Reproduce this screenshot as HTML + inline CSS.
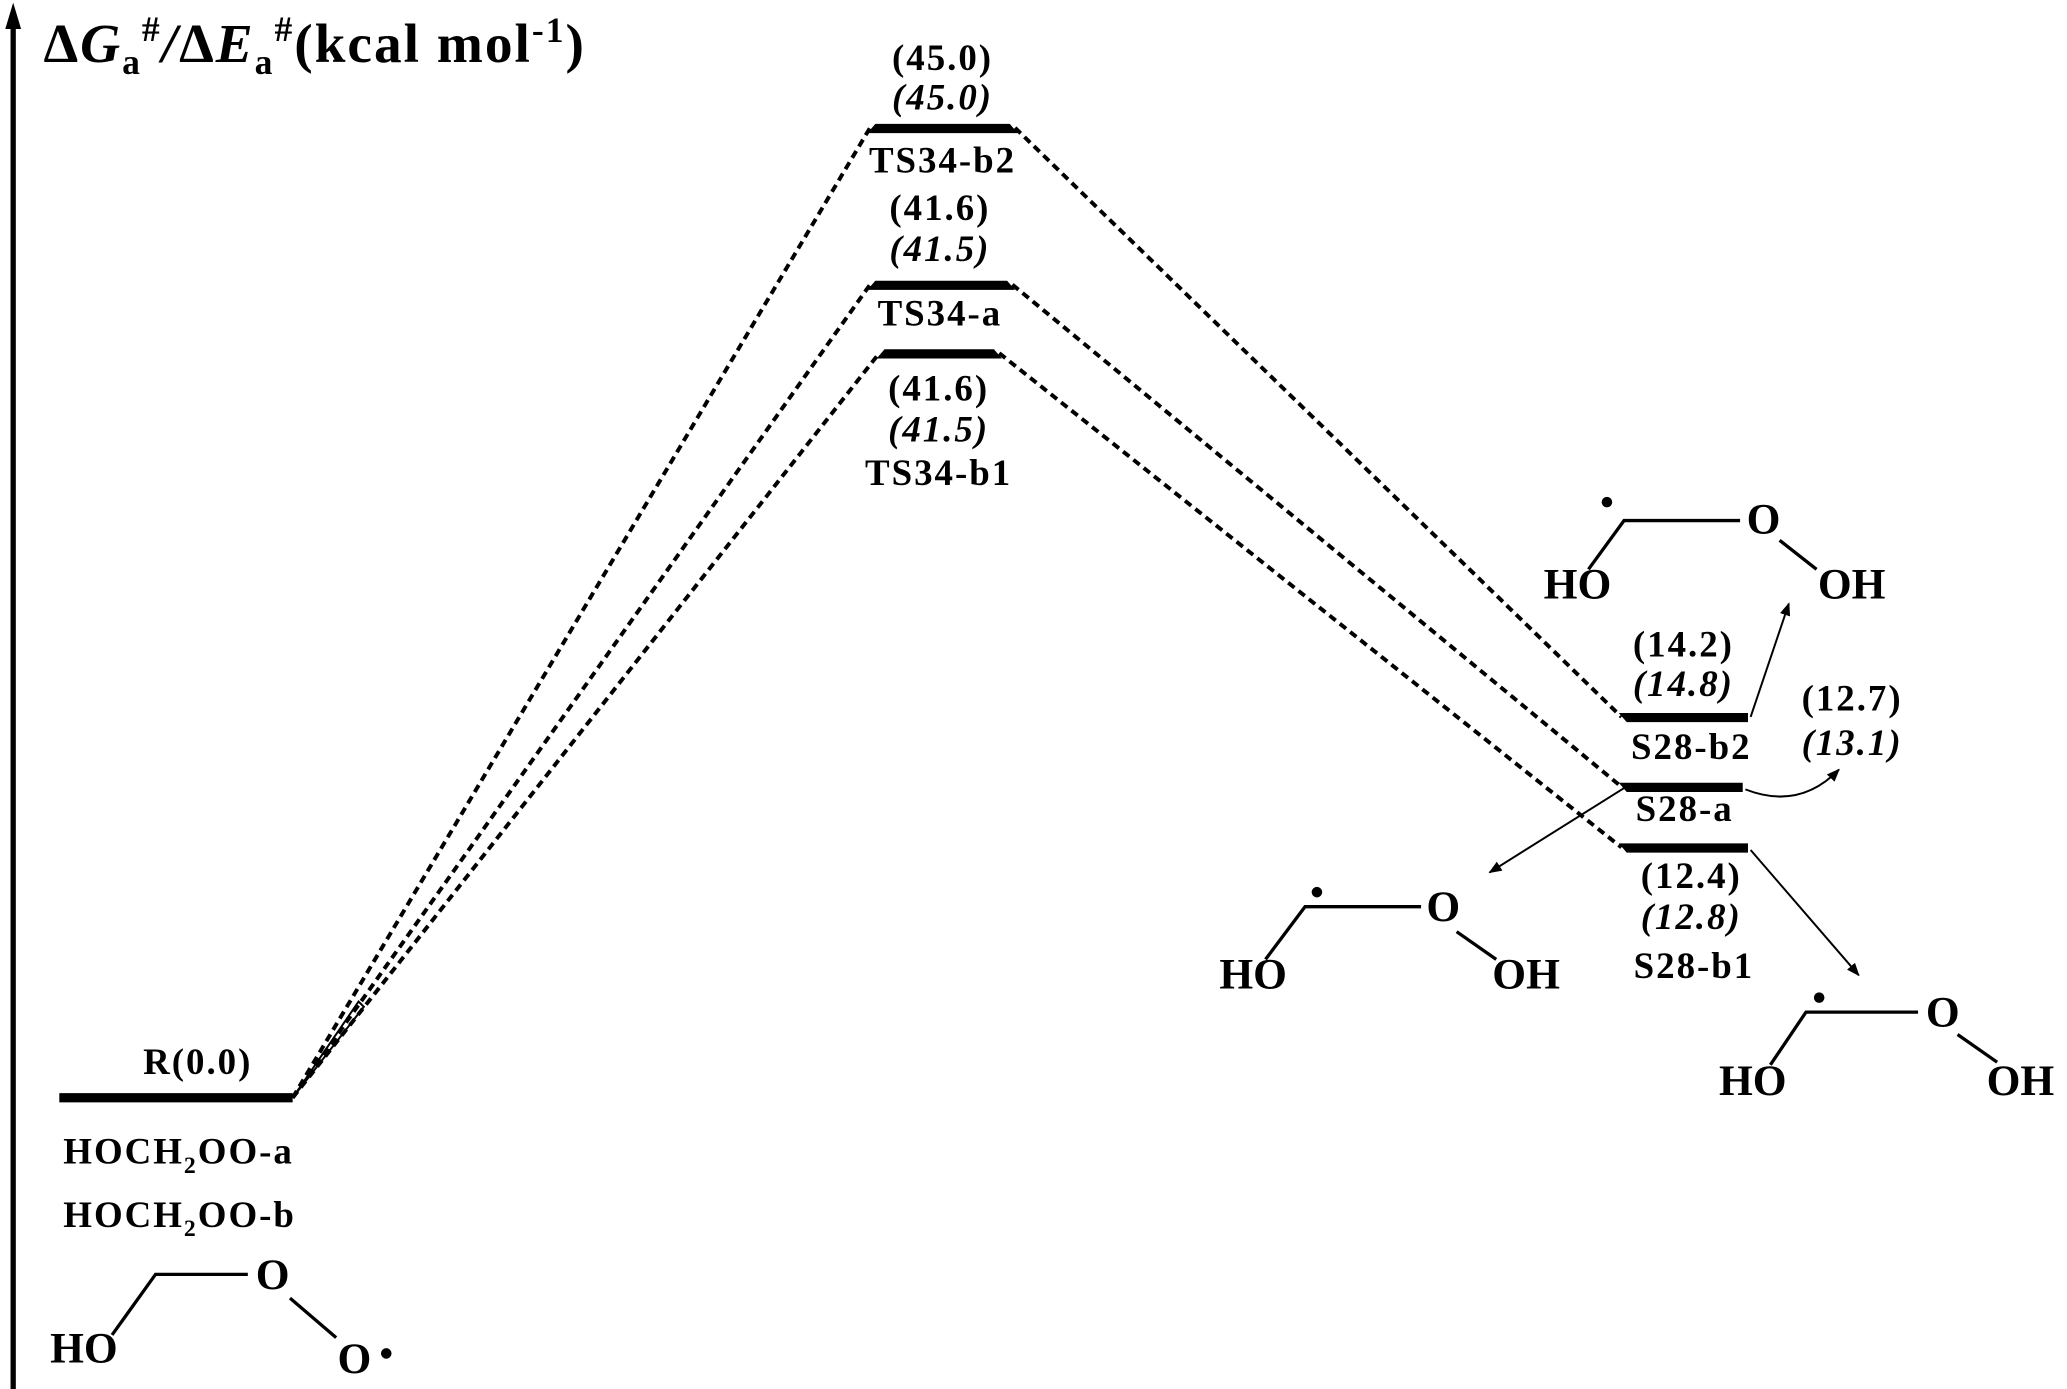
<!DOCTYPE html>
<html><head><meta charset="utf-8"><style>
html,body{margin:0;padding:0;background:#fff;}
svg{display:block;}
text{font-family:"Liberation Serif",serif;font-weight:bold;fill:#000;}
.l{letter-spacing:1.5px;}
</style></head><body>
<svg width="2067" height="1389" viewBox="0 0 1568 1054" preserveAspectRatio="none" xmlns="http://www.w3.org/2000/svg">
<defs>
<marker id="ah" markerWidth="10" markerHeight="8" refX="9" refY="4" orient="auto" markerUnits="userSpaceOnUse">
<path d="M0,0 L10,4 L0,8 z" fill="#000"/></marker>
</defs>
<line x1="10" y1="1054" x2="10" y2="18" stroke="#000" stroke-width="4"/>
<path d="M10,2 L4,22 L16,22 z" fill="#000"/>
<text x="33" y="47" font-size="42" letter-spacing="1.5">Δ<tspan font-style="italic">G</tspan><tspan font-size="27" dy="9">a</tspan><tspan font-size="27" dy="-25">#</tspan><tspan dy="16" font-style="italic">/</tspan>Δ<tspan font-style="italic">E</tspan><tspan font-size="27" dy="9">a</tspan><tspan font-size="27" dy="-25">#</tspan><tspan dy="16">(kcal mol</tspan><tspan font-size="27" dy="-15">-1</tspan><tspan dy="15">)</tspan></text>

<line x1="45" y1="833" x2="222" y2="833" stroke="#000" stroke-width="7"/>
<text x="150" y="815" font-size="28" class="l" text-anchor="middle">R(0.0)</text>
<text x="48" y="883" font-size="28" class="l">HOCH<tspan font-size="18" dy="7">2</tspan><tspan dy="-7">OO-a</tspan></text>
<text x="48" y="931" font-size="28" class="l">HOCH<tspan font-size="18" dy="7">2</tspan><tspan dy="-7">OO-b</tspan></text>
<g stroke="#000" stroke-width="2.5" fill="none">
<polyline points="85,1013 118,967 188,967"/>
<line x1="220" y1="985" x2="255" y2="1015"/>
</g>
<text x="38" y="1034" font-size="33">HO</text>
<text x="194" y="978" font-size="33">O</text>
<text x="256" y="1042" font-size="33">O</text>
<circle cx="293" cy="1027" r="4" fill="#000"/>

<g stroke="#000" stroke-width="3" stroke-dasharray="6,4" fill="none">
<line x1="222" y1="833" x2="660" y2="97"/>
<line x1="222" y1="833" x2="660" y2="216"/>
<line x1="222" y1="833" x2="667" y2="268"/>
<line x1="770" y1="97" x2="1230" y2="544"/>
<line x1="768" y1="216" x2="1230" y2="597"/>
<line x1="758" y1="268" x2="1230" y2="643"/>
</g>
<path d="M222,833 L272,760 L276,764 z" fill="none" stroke="#000" stroke-width="1.5"/>

<path d="M658,101 L664,94 L766,94 L772,101 z" fill="#000"/>
<path d="M658,220 L664,213 L764,213 L770,220 z" fill="#000"/>
<path d="M665,272 L671,265 L754,265 L760,272 z" fill="#000"/>
<g font-size="28" text-anchor="middle" class="l">
<text x="715" y="53">(45.0)</text>
<text x="715" y="83" font-style="italic">(45.0)</text>
<text x="715" y="131">TS34-b2</text>
<text x="713" y="167">(41.6)</text>
<text x="713" y="198" font-style="italic">(41.5)</text>
<text x="713" y="247">TS34-a</text>
<text x="712" y="304">(41.6)</text>
<text x="712" y="335" font-style="italic">(41.5)</text>
<text x="712" y="368">TS34-b1</text>
</g>

<path d="M1228,541 L1326,541 L1326,548 L1234,548 z" fill="#000"/>
<path d="M1228,594 L1322,594 L1322,601 L1234,601 z" fill="#000"/>
<path d="M1228,640 L1326,640 L1326,647 L1234,647 z" fill="#000"/>
<g font-size="28" text-anchor="middle" class="l">
<text x="1277" y="498">(14.2)</text>
<text x="1277" y="528" font-style="italic">(14.8)</text>
<text x="1283" y="576">S28-b2</text>
<text x="1278" y="623">S28-a</text>
<text x="1283" y="674">(12.4)</text>
<text x="1283" y="705" font-style="italic">(12.8)</text>
<text x="1285" y="742">S28-b1</text>
<text x="1405" y="539">(12.7)</text>
<text x="1405" y="573" font-style="italic">(13.1)</text>
</g>

<g stroke="#000" stroke-width="1.5" fill="none" marker-end="url(#ah)">
<line x1="1328" y1="544" x2="1357" y2="458"/>
<path d="M1324,599 Q1365,615 1395,584"/>
<line x1="1232" y1="598" x2="1130" y2="662"/>
<line x1="1328" y1="645" x2="1410" y2="740"/>
</g>

<g stroke="#000" stroke-width="2.5" fill="none">
<polyline points="1205,432 1232,395 1320,395"/>
<line x1="1350" y1="410" x2="1378" y2="432"/>
<polyline points="960,728 990,688 1078,688"/>
<line x1="1105" y1="707" x2="1135" y2="728"/>
<polyline points="1343,808 1370,768 1455,768"/>
<line x1="1485" y1="785" x2="1515" y2="806"/>
</g>
<g font-size="33">
<text x="1171" y="454">HO</text>
<text x="1325" y="405">O</text>
<text x="1379" y="454">OH</text>
<text x="925" y="750">HO</text>
<text x="1082" y="699">O</text>
<text x="1132" y="750">OH</text>
<text x="1304" y="831">HO</text>
<text x="1461" y="779">O</text>
<text x="1507" y="831">OH</text>
</g>
<circle cx="1219" cy="381" r="4" fill="#000"/>
<circle cx="999" cy="677" r="4" fill="#000"/>
<circle cx="1380" cy="757" r="4" fill="#000"/>
</svg>
</body></html>
